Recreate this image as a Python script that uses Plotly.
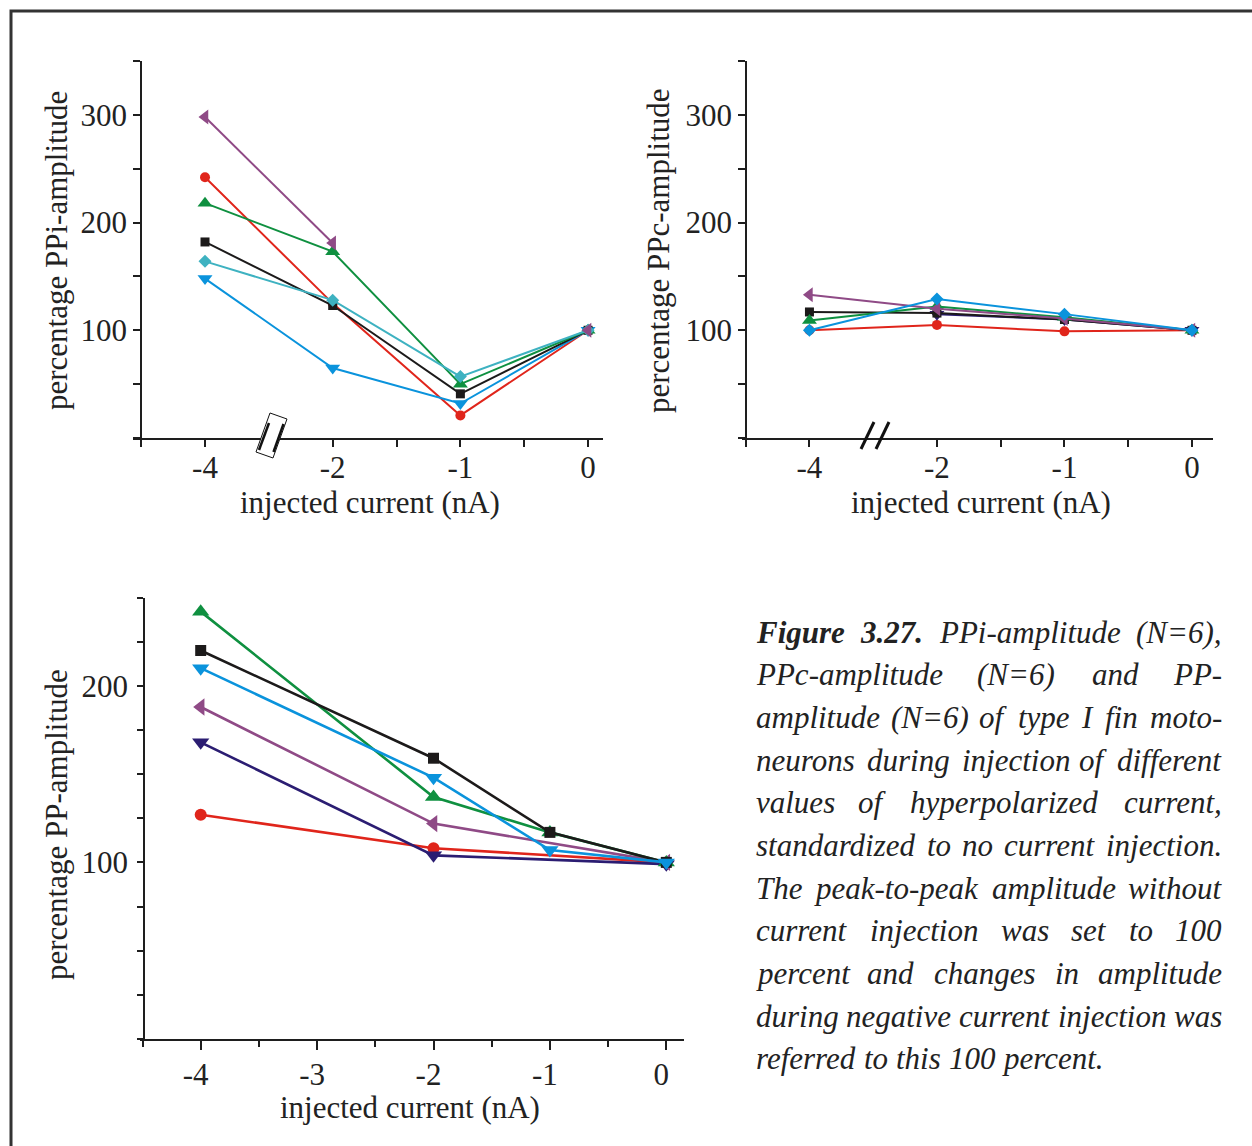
import plotly.graph_objects as go

# ---------------- data ----------------
currents = [-4, -2, -1, 0]              # injected current (nA)
top_pos = [0, 1, 2, 3]                  # evenly spaced display slots for the broken top axes
top_tick_pos = [-0.5, 0, 1, 1.5, 2, 2.5, 3]
top_tick_text = ["", "-4", "-2", "", "-1", "", "0"]
top_y_ticks = [0, 50, 100, 150, 200, 250, 300, 350]
top_y_text = ["", "", "100", "", "200", "", "300", ""]

bot_tick_vals = [-4, -3, -2, -1, 0]
bot_tick_text = ["-4", "-3", "-2", "-1", "0"]
bot_minor_vals = [-4.5, -3.5, -2.5, -1.5, -0.5]
bot_y_ticks = [0, 25, 50, 75, 100, 125, 150, 175, 200, 225, 250]
bot_y_text = ["", "", "", "", "100", "", "", "", "200", "", ""]

# PPi-amplitude (%)
ppi_red = [242, 125, 21, 100]
ppi_blue = [148, 65, 32, 100]
ppi_black = [182, 123, 41, 100]
ppi_green = [218, 173, 50, 100]
ppi_cyan = [164, 128, 57, 100]
ppi_purple = [298, 181, None, 100]

# PPc-amplitude (%)
ppc_red = [100, 105, 99, 100]
ppc_navy = [None, 115, 110, 100]
ppc_black = [117, 116, 110, 100]
ppc_green = [109, 122, 112, 100]
ppc_purple = [133, 120, 111, 100]
ppc_blue = [100, 129, 115, 100]

# PP-amplitude (%)
pp_red = [127, 108, None, 100]
pp_navy = [168, 104, None, 99]
pp_purple = [188, 122, None, 100]
pp_green = [242, 137, 117, 100]
pp_black = [220, 159, 117, 100]
pp_blue = [210, 148, 107, 100]

# ---------------- style ----------------
W, H = 1252, 1146
FONT = "Liberation Serif"
AX = "#1e1e1e"
C = dict(purple="#8f4a86", red="#e0251b", green="#0f9040", black="#1c1a1a",
         cyan="#3eb2c1", blue="#0a93dc", navy="#2b1d72")
TOP_SIZE = {"circle": 10, "square": 9, "diamond": 10, "triangle-up": 13,
            "triangle-down": 13, "triangle-left": 13}
BOT_SIZE = {"circle": 12, "square": 11, "diamond": 12, "triangle-up": 15,
            "triangle-down": 15, "triangle-left": 15}


def px(x):
    return x / W


def py(y):
    return 1 - y / H


fig = go.Figure()


def add(xs, ys, color, symbol, xa, ya, sizes, lw, gaps=False):
    fig.add_trace(go.Scatter(
        x=xs, y=ys, xaxis=xa, yaxis=ya, mode="lines+markers",
        line=dict(color=color, width=lw),
        marker=dict(color=color, symbol=symbol, size=sizes[symbol], line=dict(width=0)),
        connectgaps=gaps, showlegend=False, hoverinfo="skip"))


# top-left: PPi
for ys, col, sym in [(ppi_red, "red", "circle"), (ppi_blue, "blue", "triangle-down"),
                     (ppi_black, "black", "square"), (ppi_green, "green", "triangle-up"),
                     (ppi_cyan, "cyan", "diamond"), (ppi_purple, "purple", "triangle-left")]:
    add(top_pos, ys, C[col], sym, "x", "y", TOP_SIZE, 2)

# top-right: PPc
for ys, col, sym in [(ppc_red, "red", "circle"), (ppc_navy, "navy", "triangle-down"),
                     (ppc_black, "black", "square"), (ppc_green, "green", "triangle-up"),
                     (ppc_purple, "purple", "triangle-left"), (ppc_blue, "blue", "diamond")]:
    add(top_pos, ys, C[col], sym, "x2", "y2", TOP_SIZE, 2)

# bottom: PP
for ys, col, sym in [(pp_red, "red", "circle"), (pp_navy, "navy", "triangle-down"),
                     (pp_purple, "purple", "triangle-left"), (pp_green, "green", "triangle-up"),
                     (pp_black, "black", "square"), (pp_blue, "blue", "triangle-down")]:
    add(currents, ys, C[col], sym, "x3", "y3", BOT_SIZE, 2.6, gaps=True)

tickfont = dict(family=FONT, size=31, color="#222")
common_x = dict(showline=True, linecolor=AX, linewidth=1.5, ticks="outside", tickwidth=1.5,
                tickcolor=AX, showgrid=False, zeroline=False, tickfont=tickfont, tickmode="array")
common_y = dict(showline=True, linecolor=AX, linewidth=1.5, ticks="outside", tickwidth=1.5,
                tickcolor=AX, showgrid=False, zeroline=False, tickfont=tickfont, tickmode="array",
                anchor="free")

top_dom = [py(438), py(61)]
fig.update_layout(
    width=W, height=H, margin=dict(l=0, r=0, t=0, b=0),
    paper_bgcolor="white", plot_bgcolor="rgba(0,0,0,0)",
    xaxis=dict(common_x, domain=[px(133), px(603)], range=[-0.564, 3.117], anchor="y",
               tickvals=top_tick_pos, ticktext=top_tick_text, ticklen=7, ticklabelstandoff=-6),
    yaxis=dict(common_y, domain=top_dom, range=[0, 350], position=px(141),
               tickvals=top_y_ticks, ticktext=top_y_text, ticklen=7),
    xaxis2=dict(common_x, domain=[px(742), px(1213)], range=[-0.529, 3.165], anchor="y2",
                tickvals=top_tick_pos, ticktext=top_tick_text, ticklen=7, ticklabelstandoff=-6),
    yaxis2=dict(common_y, domain=top_dom, range=[0, 350], position=px(746),
                tickvals=top_y_ticks, ticktext=top_y_text, ticklen=7),
    xaxis3=dict(common_x, domain=[px(140), px(684)], range=[-4.5215, 0.152], anchor="y3",
                tickvals=bot_tick_vals, ticktext=bot_tick_text, ticklen=9,
                ticklabelshift=-5, ticklabelstandoff=-2,
                minor=dict(tickvals=bot_minor_vals, ticks="outside", ticklen=6,
                           tickwidth=1.5, tickcolor=AX)),
    yaxis3=dict(common_y, domain=[py(1039), py(597.5)], range=[0, 250], position=px(144),
                tickvals=bot_y_ticks, ticktext=bot_y_text, ticklen=6, ticklabelstandoff=3),
)

# ---------------- axis titles ----------------
title_font = dict(family=FONT, size=31, color="#222")
annots = []
for text, x, y, ang in [
    ("percentage PPi-amplitude", 56, 251, -90),
    ("percentage PPc-amplitude", 658, 251, -90),
    ("percentage PP-amplitude", 56, 825, -90),
    ("injected current (nA)", 370, 503, 0),
    ("injected current (nA)", 981, 503, 0),
    ("injected current (nA)", 410, 1107, 0),
]:
    annots.append(dict(text=text, x=px(x), y=py(y), xref="paper", yref="paper",
                       showarrow=False, textangle=ang, font=title_font,
                       xanchor="center", yanchor="middle"))

# ---------------- justified caption ----------------
CAP_SIZE = 31
ITALIC = {
    " ": 250, ",": 250, ".": 250, "-": 333, "(": 333, ")": 333, "=": 675,
    "a": 500, "b": 500, "c": 444, "d": 500, "e": 444, "f": 278, "g": 500, "h": 500,
    "i": 278, "j": 278, "k": 444, "l": 278, "m": 722, "n": 500, "o": 500, "p": 500,
    "q": 500, "r": 389, "s": 389, "t": 278, "u": 500, "v": 444, "w": 667, "x": 444,
    "y": 444, "z": 389, "F": 611, "I": 333, "N": 667, "P": 611, "T": 556,
}
BOLD_IT = {"F": 667, "i": 278, "g": 500, "u": 556, "r": 389, "e": 444, ".": 250}


def word_width(w, bold=False):
    tot = 0
    for ch in w:
        if ch.isdigit():
            tot += 500
        elif bold and ch in BOLD_IT:
            tot += BOLD_IT[ch]
        else:
            tot += ITALIC.get(ch, 500)
    return tot * CAP_SIZE / 1000


caption_lines = [
    "Figure 3.27. PPi-amplitude (N=6),",
    "PPc-amplitude (N=6) and PP-",
    "amplitude (N=6) of type I fin moto-",
    "neurons during injection of different",
    "values of hyperpolarized current,",
    "standardized to no current injection.",
    "The peak-to-peak amplitude without",
    "current injection was set to 100",
    "percent and changes in amplitude",
    "during negative current injection was",
    "referred to this 100 percent.",
]
bold_words = {(0, 0), (0, 1)}
cap_left, cap_right = 755, 1223
cap_font = dict(family=FONT, size=CAP_SIZE, color="#222", style="italic")

for li, line in enumerate(caption_lines):
    yc = 632 + 42.67 * li
    words = line.split(" ")
    widths = [word_width(w, (li, wi) in bold_words) for wi, w in enumerate(words)]
    last = li == len(caption_lines) - 1
    if last or len(words) == 1:
        gap = ITALIC[" "] * CAP_SIZE / 1000
    else:
        gap = (cap_right - cap_left - sum(widths)) / (len(words) - 1)
    xcur = cap_left
    for wi, (w, ww) in enumerate(zip(words, widths)):
        txt = f"<b>{w}</b>" if (li, wi) in bold_words else w
        if wi == 0:
            xa, xpos = "left", xcur
        elif wi == len(words) - 1 and not last:
            xa, xpos = "right", cap_right
        else:
            xa, xpos = "center", xcur + ww / 2
        annots.append(dict(text=txt, x=px(xpos), y=py(yc), xref="paper", yref="paper",
                           showarrow=False, font=cap_font, xanchor=xa, yanchor="middle",
                           borderpad=0))
        xcur += ww + gap

fig.update_layout(annotations=annots)

# ---------------- frame and axis-break marks ----------------
shapes = [
    dict(type="rect", xref="paper", yref="paper", x0=px(11), x1=px(1275), y0=py(11), y1=py(1175),
         line=dict(color="#333", width=3), fillcolor="rgba(0,0,0,0)"),
]


def poly(pts):
    return "M " + " L ".join(f"{px(x):.5f},{py(y):.5f}" for x, y in pts) + " Z"


def seg(x0, y0, x1, y1, w):
    return dict(type="line", xref="paper", yref="paper", x0=px(x0), y0=py(y0),
                x1=px(x1), y1=py(y1), line=dict(color="#111", width=w))


# boxed break on the PPi axis
shapes.append(dict(type="path", xref="paper", yref="paper",
                   path=poly([(270, 413), (287, 419), (273, 458), (256, 452)]),
                   fillcolor="white", line=dict(color="#111", width=1)))
shapes.append(seg(269, 423, 259, 450, 2.5))
shapes.append(seg(283.5, 424, 273.5, 452, 2.5))
# double slash on the PPc axis
shapes.append(seg(861, 449, 874, 422, 3))
shapes.append(seg(876, 449, 889, 422, 3))
fig.update_layout(shapes=shapes)

fig.write_html("out.html")
